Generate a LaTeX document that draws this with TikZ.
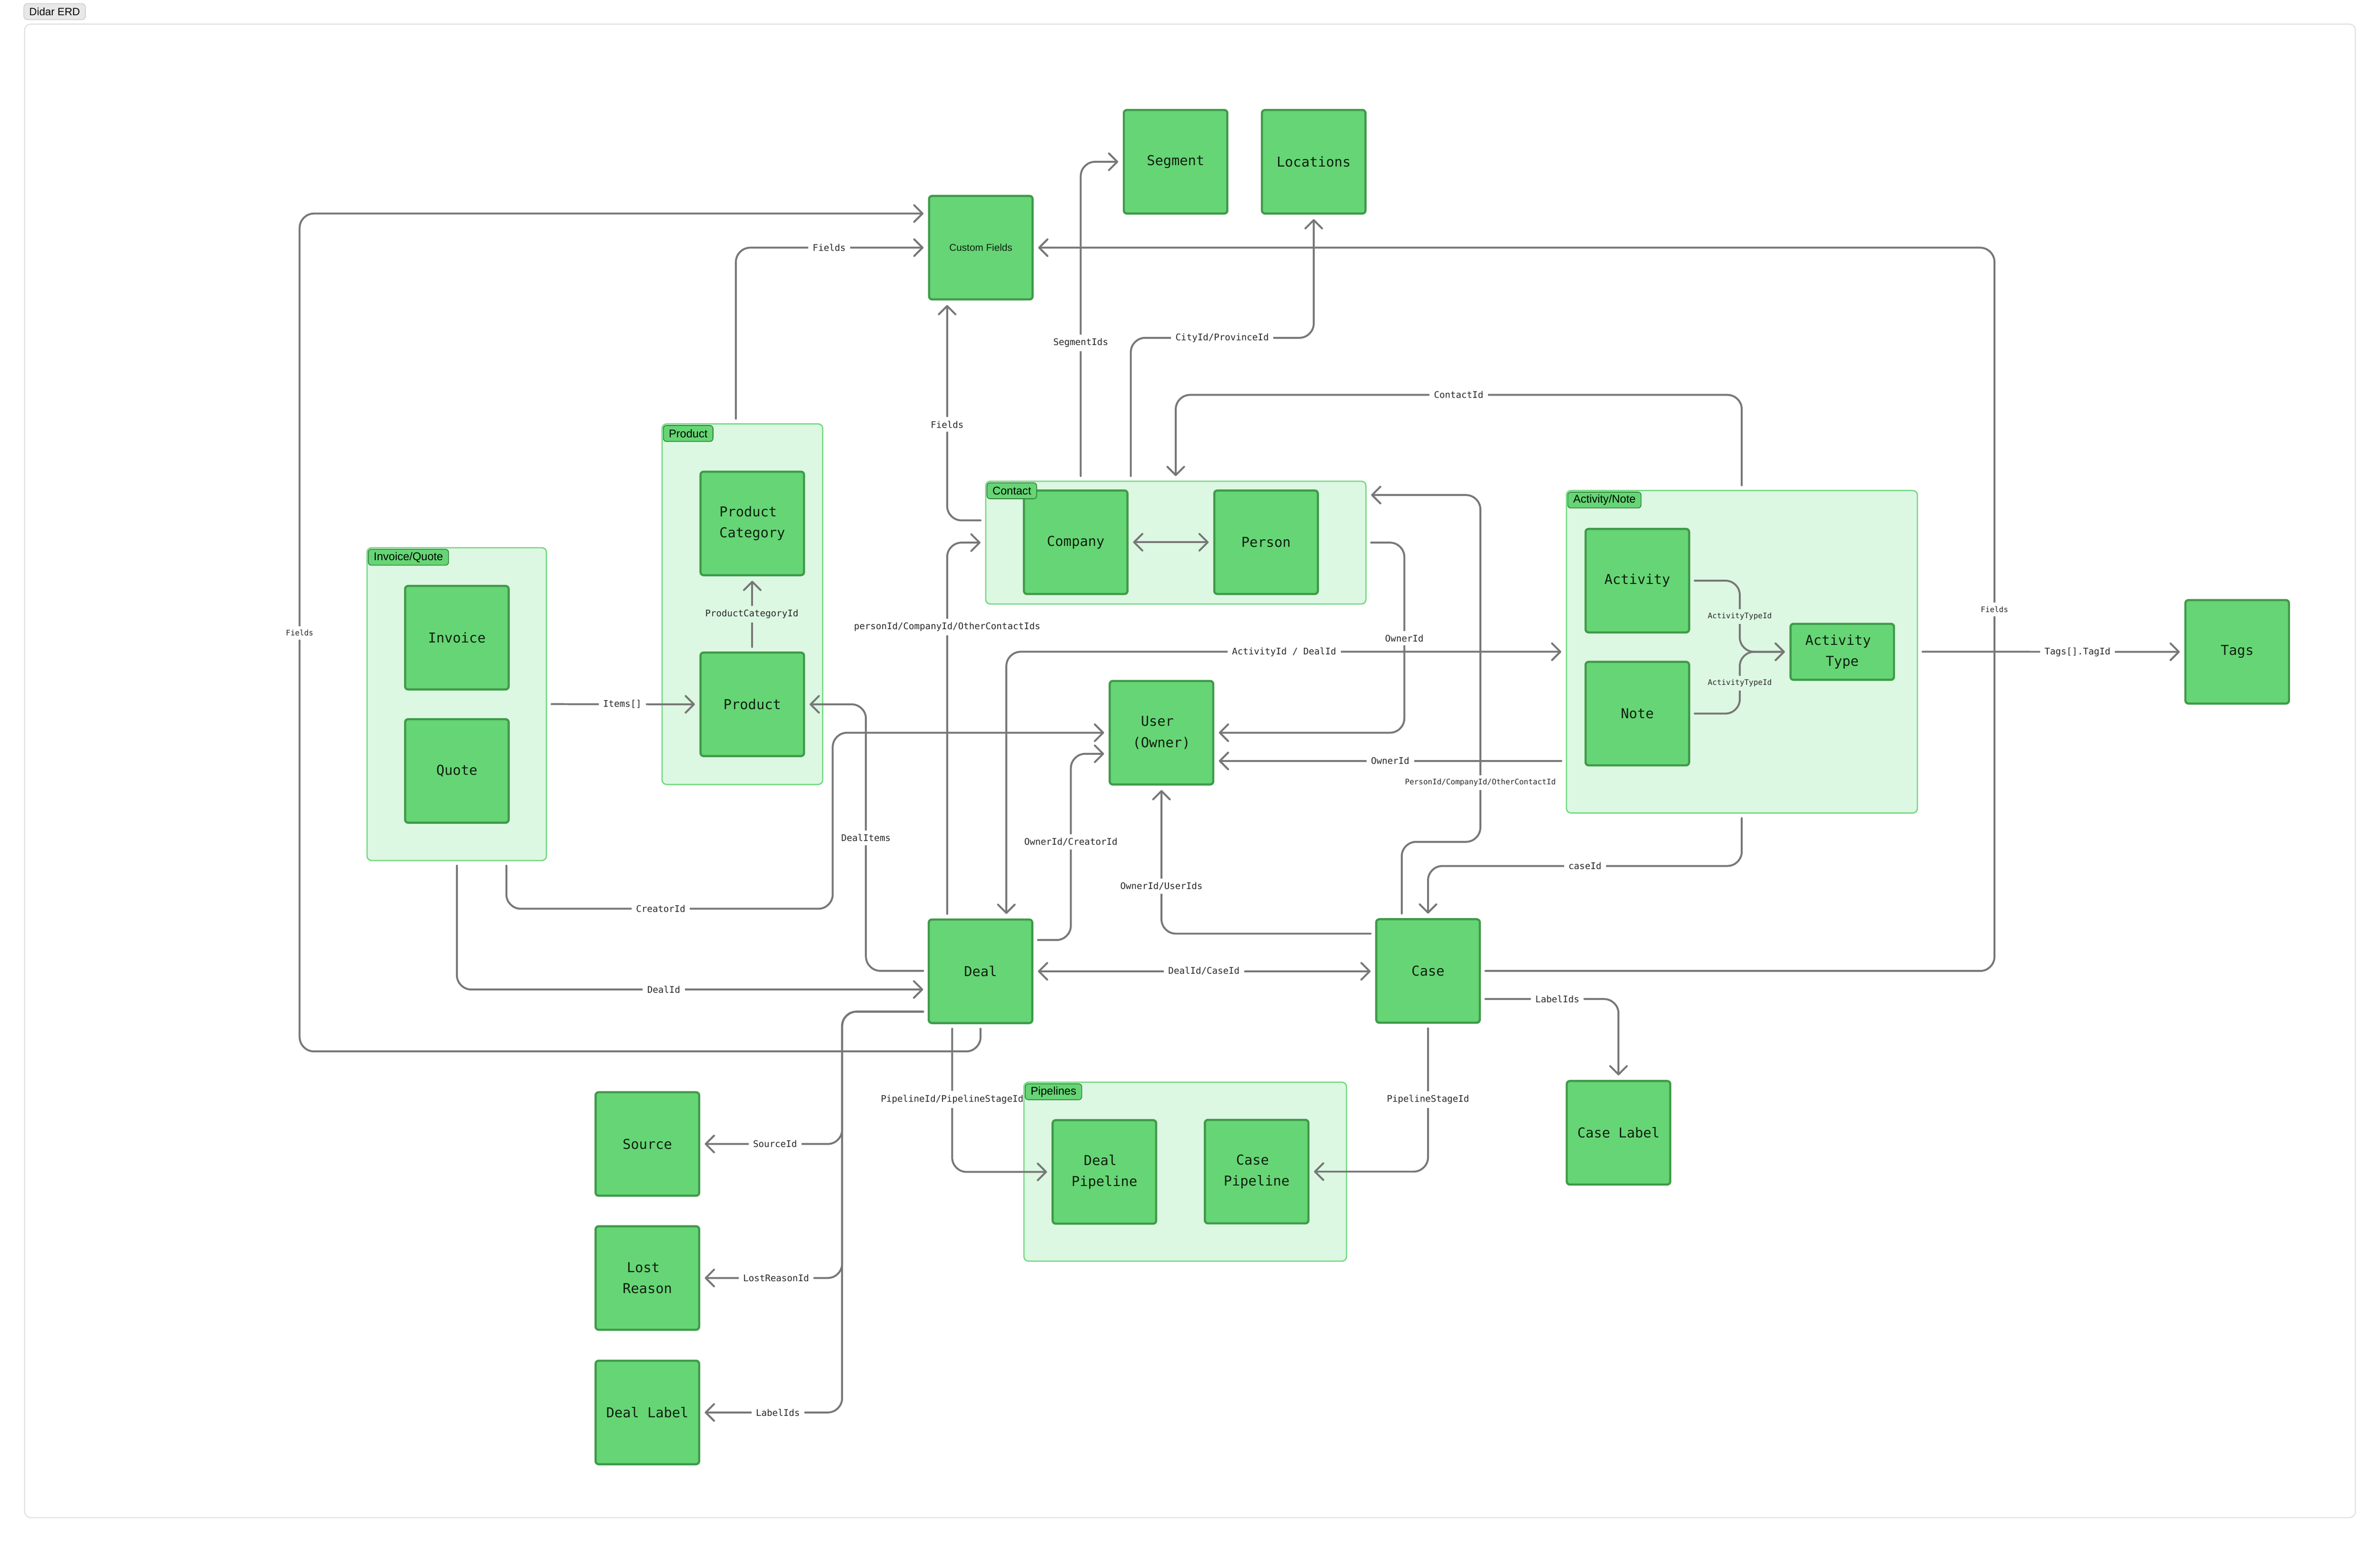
\documentclass[tikz,border=0pt]{standalone}
\usepackage{fontspec}
\setmainfont{Liberation Sans}
\newfontfamily\monof{DejaVu Sans Mono}
\newfontfamily\sansf{Liberation Sans}
\usetikzlibrary{arrows.meta,calc}
\definecolor{boxfill}{HTML}{66D575}
\definecolor{boxdraw}{HTML}{3F9A49}
\definecolor{grpfill}{HTML}{DCF7E2}
\definecolor{grpdraw}{HTML}{70D780}
\definecolor{tagdraw}{HTML}{2F7D37}
\definecolor{linecol}{HTML}{777777}
\definecolor{lbltext}{HTML}{2A2A2A}
\definecolor{boxtext}{HTML}{0F1F10}
\definecolor{framecol}{HTML}{E4E4E4}
\definecolor{titlefill}{HTML}{E8E8E8}
\definecolor{titledraw}{HTML}{CDCDCD}
\begin{document}
\begin{tikzpicture}[x=1pt,y=-1pt,
 ent/.style={draw=boxdraw, fill=boxfill, line width=1.4pt, rounded corners=2pt, minimum width=68.2pt, minimum height=68.2pt, inner sep=0pt, align=center, text=boxtext, font=\monof\fontsize{9}{14}\selectfont},
 grp/.style={draw=grpdraw, fill=grpfill, line width=0.8pt, rounded corners=3pt, inner sep=0pt},
 gtag/.style={anchor=north west, draw=tagdraw, fill=boxfill, line width=0.5pt, rounded corners=2pt, minimum height=10.5pt, inner xsep=3.6pt, inner ysep=0pt, font=\sansf\fontsize{7.4}{8}\selectfont, text=black},
 conn/.style={draw=linecol, line width=1.25pt, rounded corners=9.5pt, line cap=round, shorten <=3pt, shorten >=3pt},
 ar/.style={-{Straight Barb[length=5.5pt,width=11pt,round]}},
 arr/.style={{Straight Barb[length=5.5pt,width=11pt,round]}-{Straight Barb[length=5.5pt,width=11pt,round]}},
 lbl/.style={fill=white, inner xsep=3pt, inner ysep=2.5pt, text=lbltext, font=\monof\fontsize{6}{7}\selectfont},
 slbl/.style={lbl, font=\monof\fontsize{5}{6}\selectfont},
]
\useasboundingbox (0,0) rectangle (1568,1016.06);
\fill[white] (0,0) rectangle (1568,1016.06);
% frame and title
\draw[framecol, line width=0.8pt, rounded corners=4pt] (16.2,15.9) rectangle (1551.8,1000);
\node[draw=titledraw, fill=titlefill, line width=0.5pt, rounded corners=2.5pt, minimum width=40.6pt, minimum height=10.6pt, inner sep=0pt, font=\sansf\fontsize{7}{8}\selectfont, text=black] (title) at (36,7.7) {Didar ERD};

% groups
\node[grp, minimum width=105.8pt, minimum height=237.6pt] (gprod) at (489.1,398.1) {};
\node[grp, minimum width=118.2pt, minimum height=206.1pt] (giq) at (300.9,463.95) {};
\node[grp, minimum width=250.5pt, minimum height=80.9pt] (gcontact) at (774.65,357.55) {};
\node[grp, minimum width=231.2pt, minimum height=212.5pt] (gan) at (1147.6,429.45) {};
\node[grp, minimum width=212.5pt, minimum height=117.9pt] (gpipe) at (780.85,772.05) {};

% entities
\node[ent] (segment) at (774.5,106.6) {Segment};
\node[ent] (locations) at (865.5,106.6) {Locations};
\node[ent, font=\sansf\fontsize{6.5}{8}\selectfont] (cf) at (646.2,163.2) {Custom Fields};
\node[ent] (pcat) at (495.6,344.9) {Product\hphantom{0}\\Category};
\node[ent] (product) at (495.6,464.1) {Product};
\node[ent] (invoice) at (301,420.2) {Invoice};
\node[ent] (quote) at (301,508) {Quote};
\node[ent] (company) at (708.7,357.3) {Company};
\node[ent] (person) at (834.1,357.3) {Person};
\node[ent] (user) at (765.2,482.8) {User\hphantom{0}\\(Owner)};
\node[ent] (activity) at (1078.7,382.6) {Activity};
\node[ent] (note) at (1078.7,470.2) {Note};
\node[ent, minimum height=36.9pt] (atype) at (1213.7,429.5) {Activity\hphantom{0}\\Type};
\node[ent] (tags) at (1473.9,429.5) {Tags};
\node[ent] (deal) at (646,640) {Deal};
\node[ent] (case) at (940.8,639.8) {Case};
\node[ent] (clabel) at (1066.3,746.4) {Case Label};
\node[ent] (dpipe) at (727.6,772.2) {Deal\hphantom{0}\\Pipeline};
\node[ent] (cpipe) at (827.9,772.0) {Case\hphantom{0}\\Pipeline};
\node[ent] (source) at (426.5,753.8) {Source};
\node[ent] (lreason) at (426.5,842.1) {Lost\hphantom{0}\\Reason};
\node[ent] (dlabel) at (426.5,930.7) {Deal Label};

% group tags
\node[gtag] (tprod) at ($(gprod.north west)+(1,1.2)$) {Product};
\node[gtag] (tiq) at ($(giq.north west)+(1,1.2)$) {Invoice/Quote};
\node[gtag] (tcontact) at ($(gcontact.north west)+(1,1.2)$) {Contact};
\node[gtag] (tan) at ($(gan.north west)+(1,1.2)$) {Activity/Note};
\node[gtag] (tpipe) at ($(gpipe.north west)+(1,1.2)$) {Pipelines};

% connectors
\draw[conn,ar] (giq.east) -- (product.west);
\draw[conn,ar] (product.north) -- (pcat.south);
\draw[conn,ar] (484.8,0 |- gprod.north) |- (cf.west);
\draw[conn,ar] (deal.south) |- (197.4,692.8) |- (cf.west |- 0,140.7);
\draw[conn,ar] (333.6,0 |- giq.south) |- (548.6,598.8) |- (user.west);
\draw[conn,ar] (301,0 |- giq.south) |- (deal.west |- 0,652);
\draw[conn,ar] (deal.west |- 0,639.7) -| (570.5,464.1) -- (product.east);
\draw[conn,ar] (deal.west |- 0,666.6) -| (554.8,753.8) -- (source.east);
\draw[conn,ar] (deal.west |- 0,666.6) -| (554.8,842.1) -- (lreason.east);
\draw[conn,ar] (deal.west |- 0,666.6) -| (554.8,930.7) -- (dlabel.east);
\draw[conn,ar] (case.east) -| (1314,163.2) -- (cf.east);
\draw[conn,ar] (gan.east) -- (tags.west);
\draw[conn,ar] (activity.east) -| (1146.2,429.5) -- (atype.west);
\draw[conn,ar] (note.east) -| (1146.2,429.5) -- (atype.west);
\draw[conn,ar] (1147.5,0 |- gan.north) |- (774.6,260.2) -- (774.6,0 |- gcontact.north);
\draw[conn,ar] (1147.5,0 |- gan.south) |- (case.north |- 0,570.6) -- (case.north);
\draw[conn,arr] (663,0 |- deal.north) |- (gan.west);
\draw[conn,ar] (gan.west |- 0,501.4) -- (user.east |- 0,501.4);
\draw[conn,ar] (gcontact.east) -| (925.2,482.8) -- (user.east);
\draw[conn,ar] (923.5,0 |- case.north) |- (975.3,554.7) |- (gcontact.east |- 0,326.2);
\draw[conn,ar] (case.west |- 0,615.2) -| (user.south);
\draw[conn,ar] (deal.east |- 0,619.4) -| (705.5,496.7) -- (user.west |- 0,496.7);
\draw[conn,arr] (deal.east) -- (case.west |- deal.east);
\draw[conn,ar] (624,0 |- deal.north) |- (gcontact.west);
\draw[conn,ar] (gcontact.west |- 0,342.9) -| (624,0 |- cf.south);
\draw[conn,ar] (712,0 |- gcontact.north) |- (segment.west);
\draw[conn,ar] (745,0 |- gcontact.north) |- (865.5,222.6) -- (locations.south);
\draw[conn,arr] (company.east) -- (person.west);
\draw[conn,ar] (case.east |- 0,658.3) -| (clabel.north);
\draw[conn,ar] (case.south) |- (cpipe.east);
\draw[conn,ar] (627.3,0 |- deal.south) |- (dpipe.west);

% labels
\node[lbl] (l1) at (410,464.1) {Items[]};
\node[lbl, fill=grpfill] (l2) at (495.3,404.7) {ProductCategoryId};
\node[lbl] (l3) at (546.3,163.2) {Fields};
\node[slbl] (l4) at (197.4,417) {Fields};
\node[lbl] (l5) at (435.3,598.8) {CreatorId};
\node[lbl] (l6) at (437.3,652) {DealId};
\node[lbl] (l7) at (570.5,552) {DealItems};
\node[lbl] (l8a) at (510.6,753.8) {SourceId};
\node[lbl] (l8b) at (511.3,842.1) {LostReasonId};
\node[lbl] (l8c) at (512.5,930.7) {LabelIds};
\node[slbl] (l9) at (1314,401.6) {Fields};
\node[lbl] (l10) at (1368.7,429.6) {Tags[].TagId};
\node[slbl, fill=grpfill] (l11a) at (1146.2,406.2) {ActivityTypeId};
\node[slbl, fill=grpfill] (l11b) at (1146.2,450.2) {ActivityTypeId};
\node[lbl] (l12) at (961,260.2) {ContactId};
\node[lbl] (l13) at (1044.2,570.6) {caseId};
\node[lbl] (l14) at (846,429.6) {ActivityId / DealId};
\node[lbl] (l15) at (915.9,501.4) {OwnerId};
\node[lbl] (l16) at (925.2,420.5) {OwnerId};
\node[slbl] (l17) at (975.3,515.7) {PersonId/CompanyId/OtherContactId};
\node[lbl] (l18) at (765.2,583.9) {OwnerId/UserIds};
\node[lbl] (l19) at (705.5,554.7) {OwnerId/CreatorId};
\node[lbl] (l20) at (793.2,639.8) {DealId/CaseId};
\node[lbl] (l21) at (624,413.1) {personId/CompanyId/OtherContactIds};
\node[lbl] (l22) at (624,279.7) {Fields};
\node[lbl] (l23) at (712,225.9) {SegmentIds};
\node[lbl] (l24) at (805.2,222.6) {CityId/ProvinceId};
\node[lbl] (l26) at (1026,658.3) {LabelIds};
\node[lbl] (l27) at (940.8,724.6) {PipelineStageId};
\node[fill=white, minimum width=10pt, minimum height=11pt, inner sep=0pt] (p28) at (627.3,724.4) {};
\node[lbl, fill=none] (l28) at (627.3,724.4) {PipelineId/PipelineStageId};
\end{tikzpicture}
\end{document}
